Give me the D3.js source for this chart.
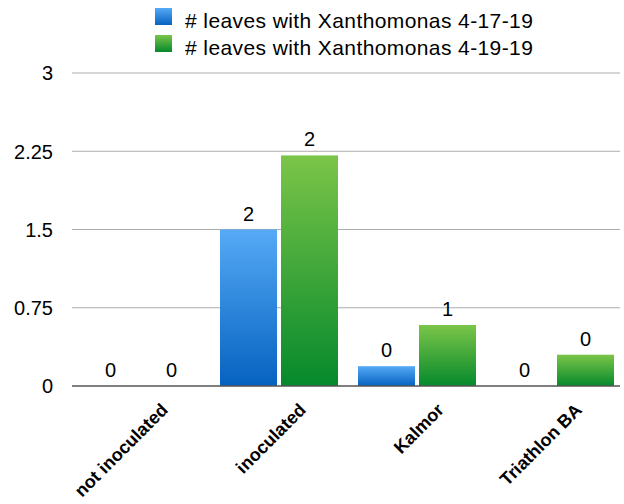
<!DOCTYPE html>
<html><head><meta charset="utf-8">
<script src="https://cdn.jsdelivr.net/npm/d3@7"></script>
<style>body{margin:0;background:#fff}svg{display:block}</style>
</head><body>
<svg id="c" width="624" height="504"></svg>
<script>
const categories = ["not inoculated", "inoculated", "Kalmor", "Triathlon BA"];
const seriesNames = ["# leaves with Xanthomonas 4-17-19", "# leaves with Xanthomonas 4-19-19"];
const series1 = [0, 1.5, 0.19, 0];
const series2 = [0, 2.21, 0.585, 0.3];
const labels1 = ["0", "2", "0", "0"];
const labels2 = ["0", "2", "1", "0"];
const yTicks = [0, 0.75, 1.5, 2.25, 3];
const yTickLabels = ["0", "0.75", "1.5", "2.25", "3"];

const svg = d3.select("#c");
const font = "Liberation Sans, Arial, Helvetica, sans-serif";
const m = {l: 72, r: 624, gridR: 620, t: 73, b: 386};
const x = d3.scaleBand().domain(categories).range([m.l, m.r]);
const y = d3.scaleLinear().domain([0, 3]).range([m.b, m.t]);
const inner = d3.scaleBand().domain([0, 1]).range([0, x.bandwidth()]).paddingInner(0.0656).paddingOuter(0.164);

const defs = svg.append("defs");
const grads = [["gb", "#56aaf6", "#0562c0"], ["gg", "#7bc548", "#05892c"]];
grads.forEach(([id, a, b]) => {
  const g = defs.append("linearGradient").attr("id", id).attr("x1", 0).attr("y1", 0).attr("x2", 0).attr("y2", 1);
  g.append("stop").attr("offset", "0%").attr("stop-color", a);
  g.append("stop").attr("offset", "100%").attr("stop-color", b);
});

// gridlines
svg.append("g").selectAll("line").data(yTicks.filter(d => d > 0)).join("line")
  .attr("x1", m.l).attr("x2", m.gridR).attr("y1", d => y(d)).attr("y2", d => y(d))
  .attr("stroke", "#acacac").attr("stroke-width", 1);

// y axis labels
const yAxis = d3.axisLeft(y).tickValues(yTicks).tickFormat((d, i) => yTickLabels[i]).tickSize(0).tickPadding(19);
const ya = svg.append("g").attr("transform", `translate(${m.l},0)`).call(yAxis);
ya.select(".domain").remove();
ya.selectAll("text").attr("font-family", font).attr("font-size", 20).attr("fill", "#000").attr("dy", "0.34em");

// bars
const data = categories.map((c, i) => ({c, v: [series1[i], series2[i]], l: [labels1[i], labels2[i]]}));
const gb = svg.append("g");
data.forEach(d => {
  [0, 1].forEach(s => {
    const bx = x(d.c) + inner(s);
    const h = m.b - y(d.v[s]);
    if (d.v[s] > 0) {
      gb.append("rect").attr("x", bx).attr("y", y(d.v[s])).attr("width", inner.bandwidth()).attr("height", h)
        .attr("fill", s === 0 ? "url(#gb)" : "url(#gg)");
    }
    gb.append("text").attr("x", bx + inner.bandwidth() / 2).attr("y", y(d.v[s]) - 9)
      .attr("text-anchor", "middle").attr("font-family", font).attr("font-size", 20).attr("fill", "#000").text(d.l[s]);
  });
});

// baseline
svg.append("line").attr("x1", m.l).attr("x2", m.gridR).attr("y1", y(0)).attr("y2", y(0))
  .attr("stroke", "#555").attr("stroke-width", 1.3);

// x labels
const xAxis = d3.axisBottom(x).tickSize(0);
const xa = svg.append("g").attr("transform", `translate(0,${m.b})`).call(xAxis);
xa.select(".domain").remove();
xa.selectAll("text").attr("font-family", font).attr("font-size", 18).attr("font-weight", "bold").attr("fill", "#000")
  .attr("text-anchor", "end").attr("dy", 0).attr("y", 0)
  .attr("transform", "translate(28,25) rotate(-45)");

// legend
const lg = svg.append("g");
seriesNames.forEach((n, i) => {
  lg.append("rect").attr("x", 155).attr("y", 8 + i * 27).attr("width", 17).attr("height", 17)
    .attr("fill", i === 0 ? "url(#gb)" : "url(#gg)");
  lg.append("text").attr("x", 185).attr("y", 27.5 + i * 27).attr("font-family", font).attr("font-size", 21)
    .attr("letter-spacing", 0.4).attr("fill", "#000").text(n);
});
</script>
</body></html>
